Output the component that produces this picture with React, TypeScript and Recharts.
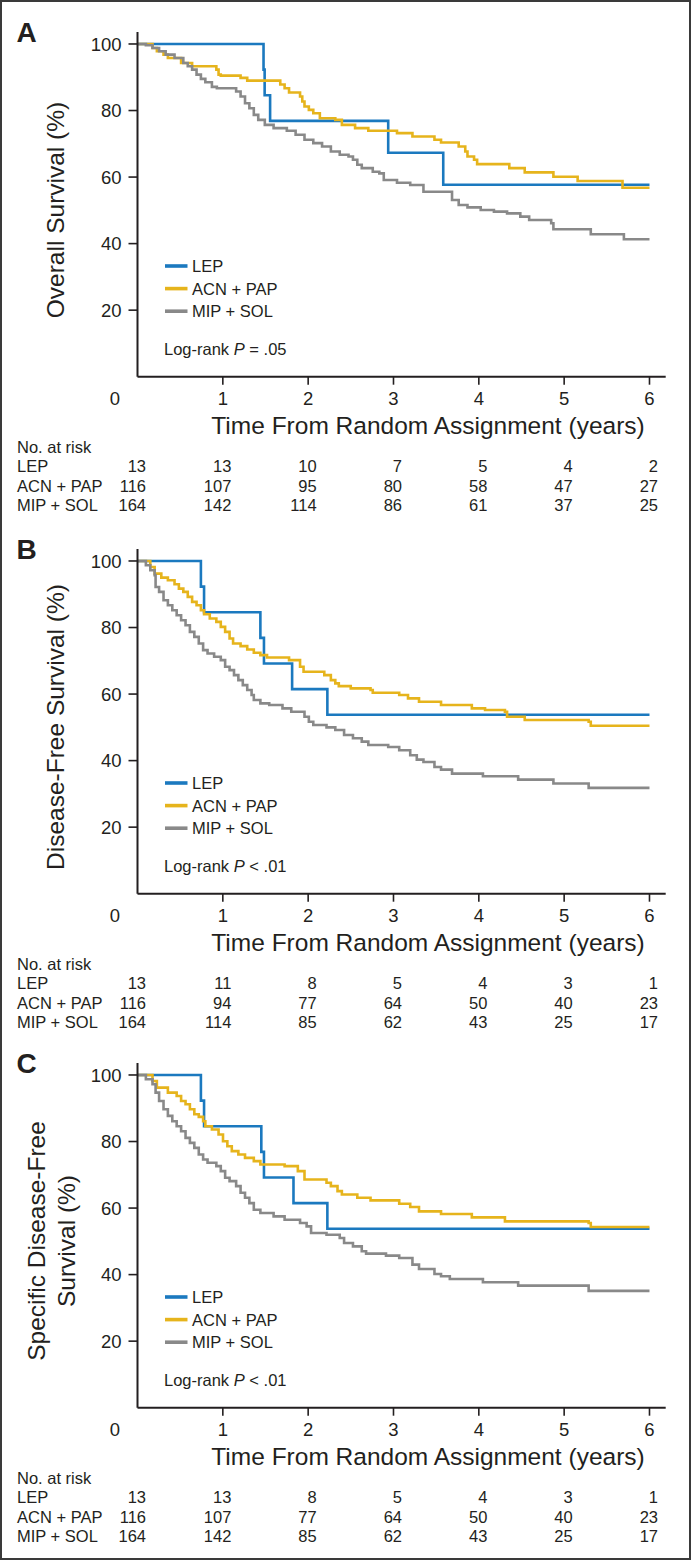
import { LineChart, Line, XAxis, YAxis } from "recharts";

const INK = "#231f20";
const FONT = '"Liberation Sans", Arial, Helvetica, sans-serif';
const LEP_COLOR = "#1b79bf";
const ACN_COLOR = "#e6b41c";
const MIP_COLOR = "#898989";

const xTicks = [0, 1, 2, 3, 4, 5, 6];
const yTicks = [20, 40, 60, 80, 100];
const groupNames = ["LEP", "ACN + PAP", "MIP + SOL"];

// Panel A: overall survival, [years, %]
const osLep: [number, number][] = [
  [0, 100], [1.477, 92.3], [1.49, 84.6], [1.554, 76.9], [2.938, 67.3], [3.583, 57.7], [6, 57.7],
];
const osAcn: [number, number][] = [
  [0, 100], [0.176, 98.8], [0.227, 97.8], [0.305, 96.8], [0.356, 95.8], [0.511, 94.3], [0.64, 93.3],
  [0.924, 92.3], [0.95, 90.8], [0.976, 90.5], [1.208, 89.8], [1.286, 89.0], [1.673, 87.8], [1.724, 86.7],
  [1.776, 85.4], [1.905, 84.2], [1.931, 82.7], [1.957, 81.2], [2.008, 80.2], [2.06, 79.2], [2.137, 77.7],
  [2.318, 77.2], [2.395, 75.7], [2.55, 74.7], [2.705, 73.9], [3.041, 73.2], [3.222, 72.2], [3.48, 71.2],
  [3.557, 70.4], [3.764, 69.2], [3.841, 67.7], [3.867, 66.2], [3.944, 65.2], [3.98, 63.9], [4.357, 62.7],
  [4.538, 61.4], [4.874, 60.1], [5.158, 58.8], [5.684, 56.8], [6, 56.8],
];
const osMip: [number, number][] = [
  [0, 100], [0.098, 99.6], [0.176, 98.8], [0.253, 97.8], [0.33, 96.8], [0.434, 95.8], [0.537, 94.3],
  [0.589, 93.3], [0.64, 92.3], [0.692, 90.8], [0.743, 89.5], [0.795, 88.5], [0.872, 87.1], [0.93, 86.7],
  [1.156, 85.7], [1.208, 84.2], [1.26, 82.2], [1.311, 80.7], [1.363, 78.7], [1.415, 77.2], [1.492, 75.7],
  [1.595, 74.7], [1.75, 73.9], [1.853, 72.7], [1.957, 71.2], [2.06, 70.2], [2.163, 69.2], [2.266, 67.7],
  [2.37, 66.7], [2.473, 66.2], [2.525, 65.2], [2.576, 63.7], [2.628, 62.7], [2.757, 61.6], [2.834, 61.1],
  [2.886, 59.1], [3.041, 58.3], [3.196, 57.6], [3.351, 55.6], [3.686, 53.1], [3.764, 51.6], [3.867, 50.9],
  [4.022, 50.1], [4.177, 49.6], [4.331, 49.1], [4.486, 48.1], [4.59, 47.1], [4.848, 46.1], [4.874, 44.3],
  [5.312, 42.8], [5.7, 41.3], [6, 41.3],
];
const osRiskLep = [13, 13, 10, 7, 5, 4, 2];
const osRiskAcn = [116, 107, 95, 80, 58, 47, 27];
const osRiskMip = [164, 142, 114, 86, 61, 37, 25];

// Panel B: disease-free survival
const dfsLep: [number, number][] = [
  [0, 100], [0.743, 92.3], [0.78, 84.6], [1.44, 76.9], [1.482, 69.2], [1.812, 61.5], [2.225, 53.8], [6, 53.8],
];
const dfsAcn: [number, number][] = [
  [0, 100], [0.15, 98.2], [0.201, 96.2], [0.279, 95.0], [0.356, 94.2], [0.434, 93.0], [0.485, 91.7],
  [0.537, 90.7], [0.589, 89.2], [0.64, 87.7], [0.692, 86.7], [0.743, 85.2], [0.78, 84.0], [0.847, 82.7],
  [0.924, 81.7], [0.976, 80.2], [1.027, 78.7], [1.079, 76.7], [1.12, 75.2], [1.208, 74.4], [1.286, 73.4],
  [1.363, 72.4], [1.44, 71.7], [1.518, 71.0], [1.776, 70.2], [1.905, 68.2], [1.946, 66.7], [2.189, 65.7],
  [2.266, 64.2], [2.318, 63.2], [2.359, 62.4], [2.499, 61.7], [2.731, 61.2], [2.757, 60.4], [3.067, 59.7],
  [3.17, 58.7], [3.299, 57.7], [3.557, 56.7], [3.918, 55.7], [4.073, 55.2], [4.306, 54.7], [4.331, 53.2],
  [4.538, 52.2], [5.287, 51.7], [5.312, 50.5], [6, 50.5],
];
const dfsMip: [number, number][] = [
  [0, 100], [0.098, 98.7], [0.15, 97.2], [0.201, 95.7], [0.212, 92.2], [0.253, 90.7], [0.305, 88.2],
  [0.356, 86.7], [0.408, 85.2], [0.459, 83.7], [0.511, 82.2], [0.563, 80.7], [0.614, 78.7], [0.666, 77.2],
  [0.718, 75.2], [0.769, 73.2], [0.821, 72.2], [0.898, 71.2], [0.976, 70.2], [1.027, 68.2], [1.079, 67.2],
  [1.131, 65.7], [1.182, 64.2], [1.234, 62.7], [1.286, 61.2], [1.337, 59.7], [1.363, 58.2], [1.44, 57.2],
  [1.544, 56.7], [1.699, 55.7], [1.802, 54.7], [1.957, 53.2], [2.008, 51.7], [2.06, 50.7], [2.215, 50.0],
  [2.318, 49.2], [2.421, 47.7], [2.525, 46.7], [2.628, 45.7], [2.705, 44.7], [2.938, 44.1], [3.067, 43.1],
  [3.196, 41.6], [3.273, 40.3], [3.351, 39.6], [3.48, 38.1], [3.557, 37.3], [3.686, 36.1], [4.048, 35.3],
  [4.461, 34.3], [4.874, 33.1], [5.287, 31.8], [6, 31.8],
];
const dfsRiskLep = [13, 11, 8, 5, 4, 3, 1];
const dfsRiskAcn = [116, 94, 77, 64, 50, 40, 23];
const dfsRiskMip = [164, 114, 85, 62, 43, 25, 17];

// Panel C: specific disease-free survival
const sdfsLep: [number, number][] = [
  [0, 100], [0.743, 92.3], [0.78, 84.6], [1.451, 76.9], [1.482, 69.2], [1.828, 61.5], [2.225, 53.8], [6, 53.8],
];
const sdfsAcn: [number, number][] = [
  [0, 100], [0.176, 98.2], [0.227, 96.2], [0.356, 94.7], [0.459, 93.7], [0.511, 92.2], [0.563, 91.2],
  [0.614, 89.7], [0.666, 88.2], [0.718, 87.4], [0.769, 86.1], [0.795, 84.6], [0.872, 83.6], [0.95, 82.1],
  [1.002, 80.1], [1.053, 78.6], [1.105, 77.1], [1.182, 76.1], [1.26, 75.1], [1.363, 74.1], [1.44, 73.1],
  [1.724, 72.6], [1.879, 71.1], [1.957, 68.6], [2.215, 67.6], [2.266, 66.6], [2.344, 65.1], [2.395, 64.1],
  [2.576, 63.1], [2.731, 62.3], [3.067, 61.3], [3.196, 60.3], [3.299, 59.0], [3.557, 58.2], [3.918, 57.2],
  [4.306, 56.0], [5.287, 55.5], [5.312, 54.3], [6, 54.3],
];
const sdfsMip: [number, number][] = [
  [0, 100], [0.098, 98.7], [0.176, 97.2], [0.212, 94.7], [0.253, 92.2], [0.305, 89.7], [0.356, 87.7],
  [0.408, 86.1], [0.459, 84.6], [0.511, 83.1], [0.563, 81.1], [0.614, 79.6], [0.666, 78.1], [0.718, 76.1],
  [0.769, 74.6], [0.821, 73.6], [0.924, 72.6], [0.976, 71.1], [1.027, 69.1], [1.079, 68.1], [1.156, 66.6],
  [1.208, 64.6], [1.26, 63.1], [1.311, 61.5], [1.363, 59.5], [1.44, 58.5], [1.595, 57.5], [1.724, 56.5],
  [1.905, 55.5], [1.982, 54.5], [2.034, 52.5], [2.215, 52.0], [2.37, 51.0], [2.421, 49.5], [2.525, 48.5],
  [2.628, 47.0], [2.679, 46.3], [2.912, 45.7], [3.067, 45.0], [3.222, 43.0], [3.299, 41.7], [3.48, 40.2],
  [3.557, 39.5], [3.66, 38.7], [4.048, 37.7], [4.461, 36.7], [5.287, 35.1], [6, 35.1],
];
const sdfsRiskLep = [13, 13, 8, 5, 4, 3, 1];
const sdfsRiskAcn = [116, 107, 77, 64, 50, 40, 23];
const sdfsRiskMip = [164, 142, 85, 62, 43, 25, 17];

// layout
const W = 692;
const PANEL_H = 516;
const PLOT_TOP = 32;
const AXIS_Y = 376.7;
const PLOT_LEFT = 137.5;
const PLOT_RIGHT = 665.7;
const Y_AXIS_W = 60;

const toPoints = (pairs: [number, number][]) => pairs.map(([t, v]) => ({ t, v }));

type PanelProps = {
  top: number;
  letter: string;
  yLabel: string[];
  lep: [number, number][];
  acn: [number, number][];
  mip: [number, number][];
  risk: number[][];
  pText: string;
};

const XTick = (props: any) => {
  const { x, y, payload, index, risk } = props;
  const t = payload.value;
  const rowY = [89.5, 109.2, 128.5];
  return (
    <g fontFamily={FONT} fill={INK}>
      {t > 0 && <line x1={x} x2={x} y1={y} y2={y + 8} stroke={INK} strokeWidth={1.6} />}
      <text x={t === 0 ? x - 22.5 : x} y={y + 28} textAnchor="middle" fontSize={18.5} fill={INK}>
        {t}
      </text>
      {index === 0 && (
        <g>
          <text x={428} y={y + 57} textAnchor="middle" fontSize={24.5} fill={INK}>
            Time From Random Assignment (years)
          </text>
          <text x={17} y={y + 76.4} fontSize={16.5} fill={INK}>No. at risk</text>
          {groupNames.map((g, r) => (
            <text key={g} x={17} y={y + rowY[r] + 5.9} fontSize={16.5} fill={INK}>
              {g}
            </text>
          ))}
        </g>
      )}
      {risk.map((row: number[], r: number) => (
        <text key={r} x={x + 8.5} y={y + rowY[r] + 5.9} textAnchor="end" fontSize={16.5} fill={INK}>
          {row[index]}
        </text>
      ))}
    </g>
  );
};

function Panel({ top, letter, yLabel, lep, acn, mip, risk, pText }: PanelProps) {
  const legendColors = [LEP_COLOR, ACN_COLOR, MIP_COLOR];
  return (
    <div style={{ position: "absolute", left: 0, top, width: W, height: PANEL_H }}>
      <LineChart
        width={W}
        height={PANEL_H}
        margin={{ top: PLOT_TOP, right: W - PLOT_RIGHT, left: PLOT_LEFT - Y_AXIS_W, bottom: 0 }}
      >
        <XAxis
          type="number"
          dataKey="t"
          domain={[0, 6.19]}
          allowDataOverflow
          ticks={xTicks}
          interval={0}
          height={PANEL_H - AXIS_Y}
          tickSize={0}
          tickMargin={0}
          tickLine={false}
          axisLine={{ stroke: INK, strokeWidth: 2 }}
          tick={(p: any) => <XTick {...p} risk={risk} />}
        />
        <YAxis
          type="number"
          domain={[0, 103.6]}
          allowDataOverflow
          ticks={yTicks}
          interval={0}
          width={Y_AXIS_W}
          tickSize={9}
          tickMargin={7}
          axisLine={{ stroke: INK, strokeWidth: 2 }}
          tickLine={{ stroke: INK, strokeWidth: 1.6 }}
          tick={{ fontSize: 18.5, fill: INK, fontFamily: FONT }}
        />
        <Line data={toPoints(lep)} dataKey="v" name="LEP" type="stepAfter" stroke={LEP_COLOR}
          strokeWidth={2.6} dot={false} activeDot={false} isAnimationActive={false} />
        <Line data={toPoints(acn)} dataKey="v" name="ACN + PAP" type="stepAfter" stroke={ACN_COLOR}
          strokeWidth={2.6} dot={false} activeDot={false} isAnimationActive={false} />
        <Line data={toPoints(mip)} dataKey="v" name="MIP + SOL" type="stepAfter" stroke={MIP_COLOR}
          strokeWidth={2.6} dot={false} activeDot={false} isAnimationActive={false} />
      </LineChart>
      <svg
        width={W}
        height={PANEL_H}
        style={{ position: "absolute", left: 0, top: 0, pointerEvents: "none" }}
        fontFamily={FONT}
      >
        <text x={16.5} y={41.5} fontSize={28} fontWeight="bold" fill={INK}>{letter}</text>
        {yLabel.map((line, i) => {
          const cx = yLabel.length === 1 ? 55 : 36.5 + i * 30;
          return (
            <text key={line} x={cx} y={210} transform={`rotate(-90 ${cx} 210)`} textAnchor="middle"
              dominantBaseline="central" fontSize={24.5} fill={INK}>
              {line}
            </text>
          );
        })}
        {groupNames.map((g, i) => (
          <g key={g}>
            <line x1={165} x2={187.5} y1={266 + 22.6 * i} y2={266 + 22.6 * i} stroke={legendColors[i]} strokeWidth={3.6} />
            <text x={192} y={266 + 22.6 * i + 5.9} fontSize={16.5} fill={INK}>{g}</text>
          </g>
        ))}
        <text x={164} y={349 + 5.9} fontSize={16.5} fill={INK}>
          Log-rank <tspan fontStyle="italic">P</tspan> {pText}
        </text>
      </svg>
    </div>
  );
}

export default function App() {
  return (
    <div style={{ position: "absolute", left: 0, top: 0, width: W, height: 1561, background: "#fff" }}>
      <div
        style={{
          position: "absolute", left: 0, top: 0, width: 691, height: 1560,
          border: `2px solid #3a3a3a`, boxSizing: "border-box",
        }}
      />
      <Panel top={0} letter="A" yLabel={["Overall Survival (%)"]} lep={osLep} acn={osAcn} mip={osMip}
        risk={[osRiskLep, osRiskAcn, osRiskMip]} pText="= .05" />
      <Panel top={516.6} letter="B" yLabel={["Disease-Free Survival (%)"]} lep={dfsLep} acn={dfsAcn} mip={dfsMip}
        risk={[dfsRiskLep, dfsRiskAcn, dfsRiskMip]} pText="< .01" />
      <Panel top={1031} letter="C" yLabel={["Specific Disease-Free", "Survival (%)"]} lep={sdfsLep} acn={sdfsAcn}
        mip={sdfsMip} risk={[sdfsRiskLep, sdfsRiskAcn, sdfsRiskMip]} pText="< .01" />
    </div>
  );
}
